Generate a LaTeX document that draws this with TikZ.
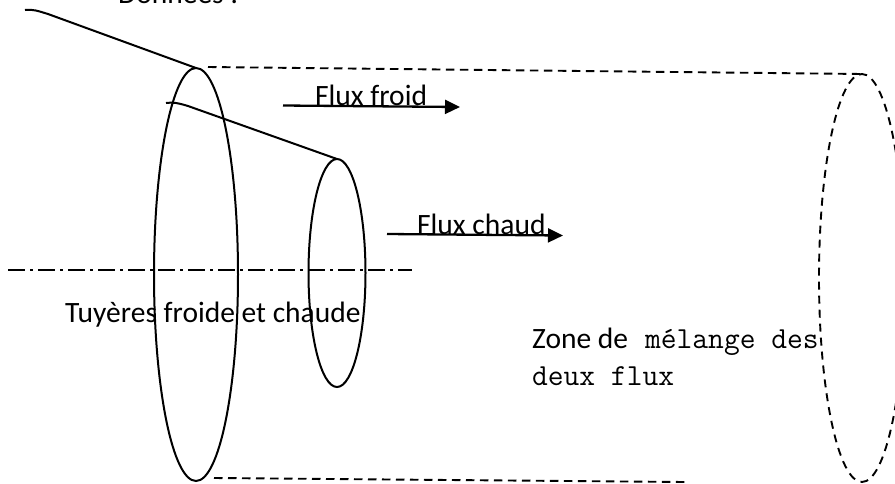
\documentclass[tikz,border=0pt]{standalone}
\usepackage{fontspec}
\setmainfont{Carlito}
\usetikzlibrary{shapes.geometric,arrows.meta}
\tikzset{
  x=1pt,y=-1pt,
  nozzle/.style={ellipse,draw,line width=2pt,inner sep=0pt,outer sep=0pt},
  mixing/.style={ellipse,draw,line width=1.9pt,inner sep=0pt,outer sep=0pt,dash pattern=on 8pt off 6pt},
  wall/.style={line width=2pt},
  bound/.style={line width=1.9pt,dash pattern=on 8.5pt off 5.5pt},
  axisline/.style={line width=1.9pt,dash pattern=on 17pt off 5pt on 3pt off 5pt},
  flow/.style={line width=2.3pt,-{Triangle[length=15pt,width=14pt]}},
  lab/.style={anchor=base west,inner sep=0pt,font=\fontsize{29.5}{34}\selectfont},
  monolab/.style={anchor=base west,inner sep=0pt,font=\fontsize{30.6}{34}\ttfamily}
}
\begin{document}
\begin{tikzpicture}
\clip (0,0) rectangle (895,483);
\fill[white] (0,0) rectangle (895,483);
\node[nozzle,minimum width=84pt,minimum height=413pt] (big) at (196,274.5) {};
\node[nozzle,minimum width=57pt,minimum height=228pt] (small) at (337,273) {};
\node[mixing,minimum width=86pt,minimum height=408pt] (mix) at (862,278) {};
\coordinate (w1) at (25,10);
\coordinate (w2) at (166,103);
\draw[wall] (w1) .. controls (33,9) and (38,11) .. (48,14) -- (big.north);
\draw[wall] (w2) .. controls (173,102) and (178,103) .. (188,106) -- (small.north);
\coordinate (b1) at (208,67);
\coordinate (b2) at (214,478);
\coordinate (b3) at (685,482);
\draw[bound] (b1) -- (mix.north);
\draw[bound] (b2) -- (b3);
\coordinate (a1) at (8,270);
\coordinate (a2) at (412,270);
\draw[axisline] (a1) -- (a2);
\coordinate (f1) at (283,105.5);
\coordinate (f2) at (460,107);
\coordinate (c1) at (387,234);
\coordinate (c2) at (563,235.5);
\node[lab] (don) at (118,3) {Données :};
\node[lab] (ff) at (315,105) {Flux froid};
\node[lab] (fc) at (417,234) {Flux chaud};
\node[lab] (ty) at (65,322) {Tuyères froide et chaude};
\node[lab] (zo) at (532,348) {Zone de};
\node[monolab] (me) at (645,348) {mélange des};
\node[monolab] (de) at (532,385) {deux flux};
\draw[flow] (f1) -- (f2);
\draw[flow] (c1) -- (c2);
\end{tikzpicture}
\end{document}
